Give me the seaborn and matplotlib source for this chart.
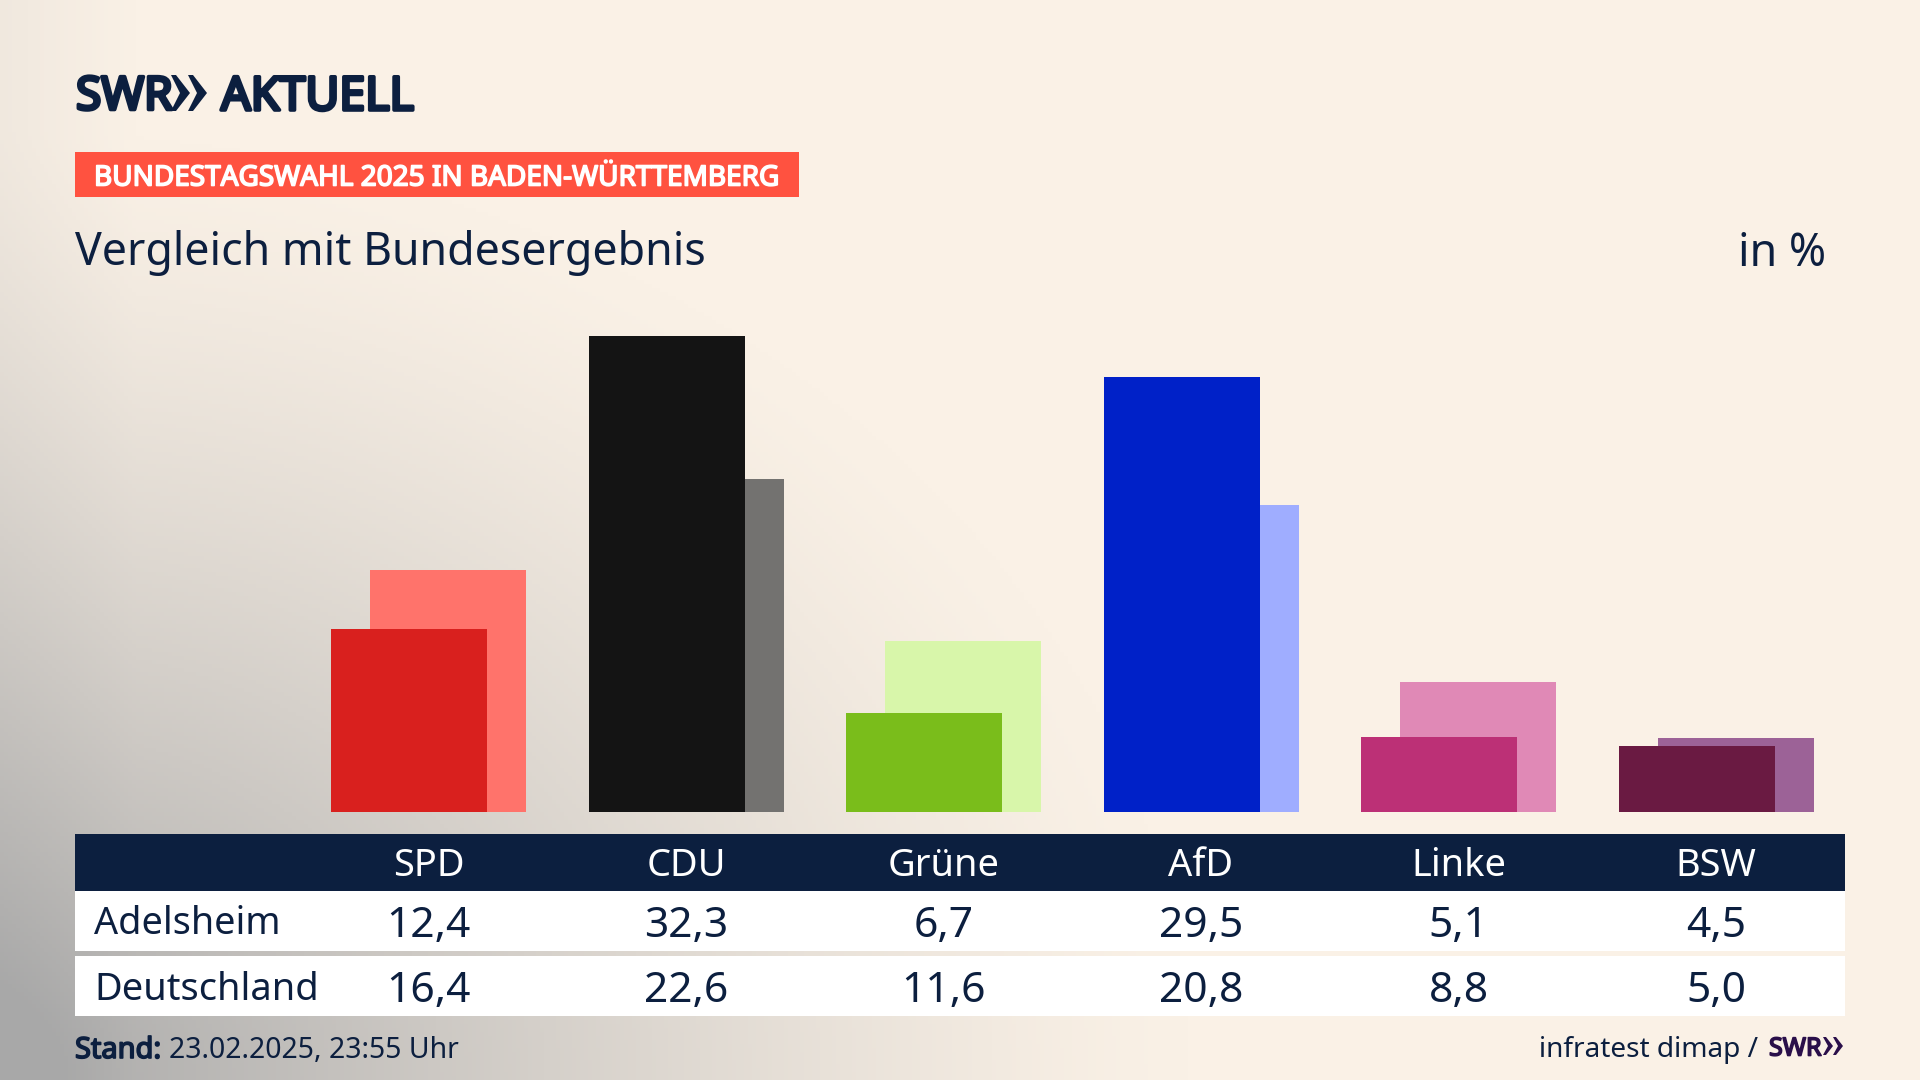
import numpy as np
import pandas as pd
import matplotlib
matplotlib.use('Agg')
import matplotlib.pyplot as plt
import matplotlib.patheffects as pe
from matplotlib.patches import Polygon, Rectangle
from matplotlib.transforms import blended_transform_factory
import seaborn as sns

# Data
parties = ['SPD', 'CDU', 'Grüne', 'AfD', 'Linke', 'BSW']
adelsheim = [12.4, 32.3, 6.7, 29.5, 5.1, 4.5]
deutschland = [16.4, 22.6, 11.6, 20.8, 8.8, 5.0]
dark_colors = ['#D9201E', '#141414', '#7ABD1B', '#0021C8', '#BC3076', '#6A1A42']
light_colors = ['#FF736B', '#737270', '#D8F6AA', '#9FADFF', '#E089B6', '#9C6297']

NAVY = '#0C1F3F'
PURPLE = '#2A0F4A'
W, H = 1920, 1080

sns.set_theme(style='white')
plt.rcParams['font.family'] = ['Noto Sans', 'DejaVu Sans']

df = pd.DataFrame({'party': parties, 'adelsheim': adelsheim, 'deutschland': deutschland})

fig = plt.figure(figsize=(19.2, 10.8), dpi=100)


def px(size):
    # font size in pixels to points
    return size * 72 / 100


def fx(x):
    return x / W


def fy(y):
    return 1 - y / H


def heavy(color, width):
    # Noto Sans comes in one weight here, so thicken it with a stroke
    return [pe.withStroke(linewidth=width, foreground=color)]


# Background: cream with a grey glow out of the lower left corner
bg = fig.add_axes([0, 0, 1, 1], zorder=0)
yy, xx = np.mgrid[0:1:270j, 0:1:480j]
dist = np.sqrt((xx / 0.62) ** 2 + ((1 - yy) / 0.88) ** 2)
glow = np.clip(1 - dist, 0, 1) ** 1.3
side = np.clip(1 - xx / 0.07, 0, 1) * 0.12
amount = np.clip(glow + side, 0, 1)[..., None]
cream = np.array([250, 241, 230]) / 255
grey = np.array([168, 168, 168]) / 255
bg.imshow(cream * (1 - amount) + grey * amount, extent=[0, 1, 0, 1], aspect='auto', origin='upper')
bg.axis('off')

# Bars: one category step is 257.5 px, first column centre at 428.5 px
left, right, top, base = 75, 1845, 240, 812
step = 257.5
ax = fig.add_axes([fx(left), fy(base), fx(right - left), (base - top) / H], zorder=2)
sns.barplot(data=df, x='party', y='deutschland', hue='party', palette=light_colors,
            width=156 / step, legend=False, saturation=1, ax=ax)
n_light = len(ax.patches)
sns.barplot(data=df, x='party', y='adelsheim', hue='party', palette=dark_colors,
            width=156 / step, legend=False, saturation=1, ax=ax)
shift = 19.5 / step
for i, bar in enumerate(ax.patches):
    bar.set_x(bar.get_x() + (shift if i < n_light else -shift))
    bar.set_linewidth(0)
ax.set_xlim((left - 428.5) / step, (right - 428.5) / step)
ax.set_ylim(0, (base - top) / 14.75)
ax.axis('off')

# Table
over = fig.add_axes([0, 0, 1, 1], zorder=1)
over.set_xlim(0, W)
over.set_ylim(H, 0)
over.axis('off')
over.add_patch(Rectangle((left, 834), right - left, 57, color=NAVY, lw=0))
over.add_patch(Rectangle((left, 891), right - left, 60, color='white', lw=0))
over.add_patch(Rectangle((left, 956), right - left, 60, color='white', lw=0))

# Columns sit on the bar axis, rows in figure pixels
col = blended_transform_factory(ax.transData, over.transData)
for i, name in enumerate(parties):
    ax.text(i, 862, name, transform=col, ha='center', va='center_baseline', color='white',
            fontsize=px(38), clip_on=False)
    ax.text(i, 921, f'{adelsheim[i]:.1f}'.replace('.', ','), transform=col, ha='center',
            va='center_baseline', color=NAVY, fontsize=px(42.5), clip_on=False)
    ax.text(i, 986, f'{deutschland[i]:.1f}'.replace('.', ','), transform=col, ha='center',
            va='center_baseline', color=NAVY, fontsize=px(42.5), clip_on=False)
over.text(94, 920, 'Adelsheim', ha='left', va='center_baseline', color=NAVY, fontsize=px(37.8))
over.text(94, 985, 'Deutschland', ha='left', va='center_baseline', color=NAVY, fontsize=px(38))

# Header
over.text(76, 92, 'SWR', ha='left', va='center_baseline', color=NAVY, fontsize=px(46),
          path_effects=heavy(NAVY, 2.6))
over.text(221, 92, 'AKTUELL', ha='left', va='center_baseline', color=NAVY, fontsize=px(46.5),
          path_effects=heavy(NAVY, 2.6))
for x0 in (171, 188):
    over.add_patch(Polygon([(x0, 75), (x0 + 5, 75), (x0 + 19, 93), (x0 + 5, 111), (x0, 111), (x0 + 9, 93)],
                           closed=True, color=NAVY, lw=0))
over.add_patch(Rectangle((75, 152), 724, 45, color='#FF5240', lw=0))
over.text(94, 175, 'BUNDESTAGSWAHL 2025 IN BADEN-WÜRTTEMBERG', ha='left', va='center_baseline',
          color='white', fontsize=px(27.95), path_effects=heavy('white', 1.2))
over.text(75, 248, 'Vergleich mit Bundesergebnis', ha='left', va='center_baseline', color=NAVY, fontsize=px(44.7))
over.text(1826, 248, 'in %', ha='right', va='center_baseline', color=NAVY, fontsize=px(44.7))

# Footer
over.text(75, 1047, 'Stand:', ha='left', va='center_baseline', color=NAVY, fontsize=px(29),
          path_effects=heavy(NAVY, 1.2))
over.text(169, 1047, '23.02.2025, 23:55 Uhr', ha='left', va='center_baseline', color=NAVY, fontsize=px(28.4))
over.text(1758, 1046, 'infratest dimap /', ha='right', va='center_baseline', color=NAVY, fontsize=px(28))
over.text(1769, 1046, 'SWR', ha='left', va='center_baseline', color=PURPLE, fontsize=px(25),
          path_effects=heavy(PURPLE, 1.2))
for x0 in (1823, 1833):
    over.add_patch(Polygon([(x0, 1037), (x0 + 3, 1037), (x0 + 10, 1046), (x0 + 3, 1055), (x0, 1055), (x0 + 5, 1046)],
                           closed=True, color=PURPLE, lw=0))

fig.savefig('out.png', dpi=100)
